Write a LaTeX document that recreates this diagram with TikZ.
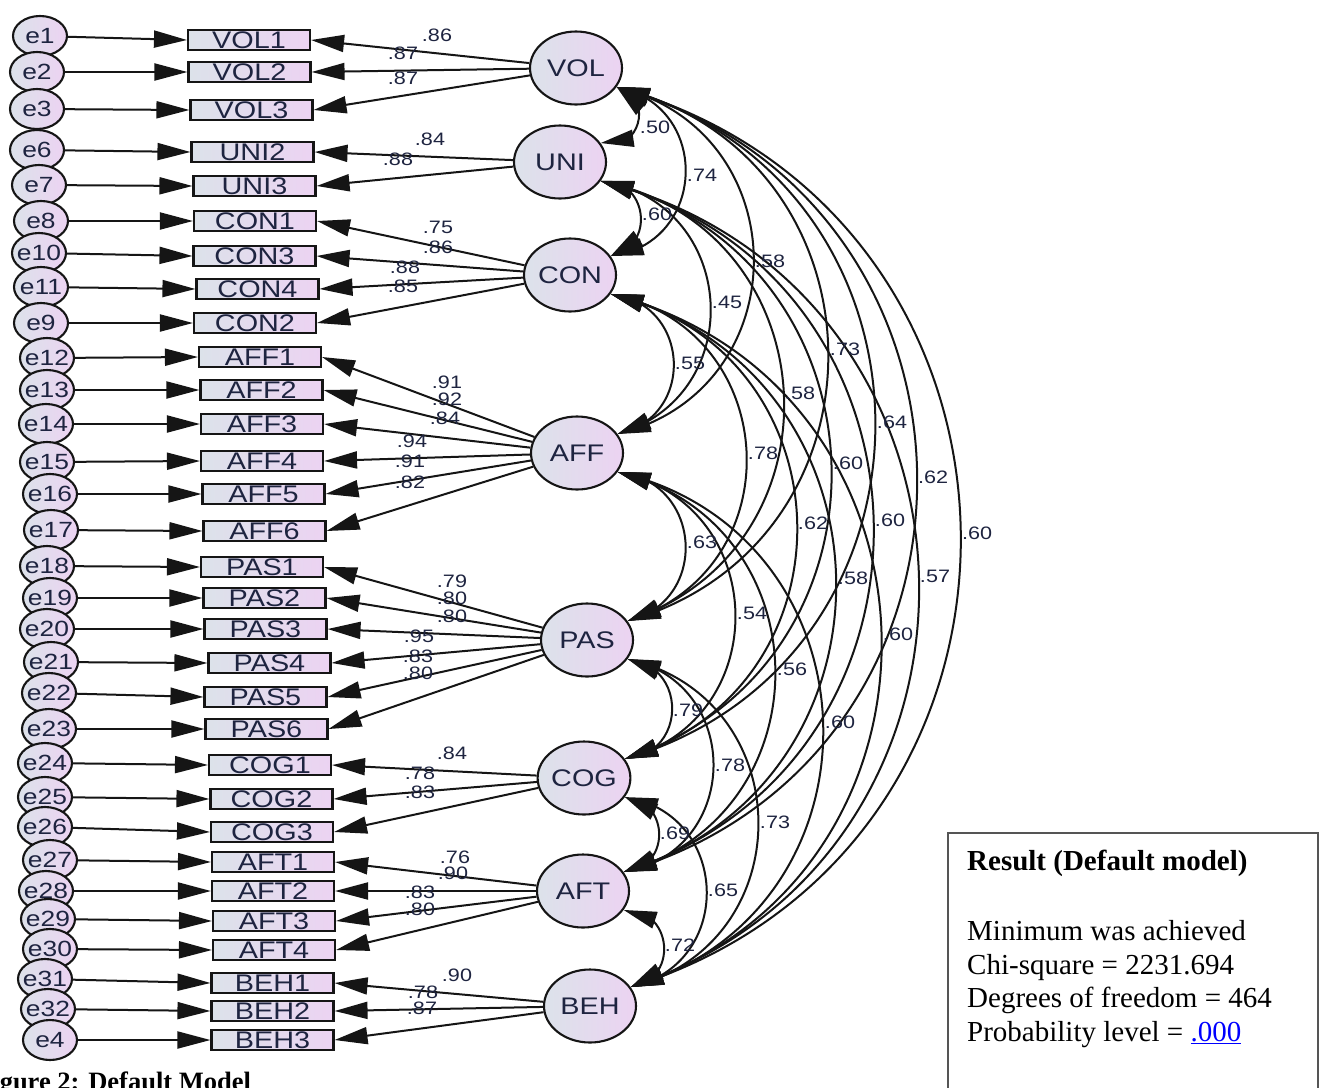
\documentclass[tikz,border=0pt]{standalone}
\usepackage{fontspec}
\usetikzlibrary{shapes.geometric,arrows.meta,bending}
\newfontfamily\dg[FakeStretch=1.2]{Liberation Sans}
\newfontfamily\tnr{Liberation Serif}
\definecolor{fillL}{HTML}{DCE2EA}
\definecolor{fillR}{HTML}{ECD3F2}
\definecolor{txt}{HTML}{1E2440}
\definecolor{lin}{HTML}{151515}
\definecolor{boxgray}{HTML}{555555}
\tikzset{
  tip/.tip={Triangle[length=33pt,width=17pt]},
  err/.style={ellipse, draw=lin, line width=2.1pt, left color=fillL, right color=fillR,
    minimum width=54pt, minimum height=40pt, inner sep=0pt, text=txt,
    font=\dg\fontsize{22}{22}\selectfont},
  obs/.style={rectangle, draw=lin, line width=2.1pt, left color=fillL, right color=fillR,
    minimum width=122pt, minimum height=20pt, inner sep=0pt, text height=17pt, text depth=0pt,
    text=txt, font=\dg\fontsize{24}{24}\selectfont},
  lat/.style={ellipse, draw=lin, line width=2.1pt, left color=fillL, right color=fillR,
    minimum width=92pt, minimum height=73pt, inner sep=0pt, text=txt,
    font=\dg\fontsize{24}{24}\selectfont},
  ld/.style={draw=lin, line width=2pt, -tip},
  cov/.style={draw=lin, line width=2pt, tip-tip},
  lab/.style={inner sep=0pt, text=txt, font=\dg\fontsize{18}{18}\selectfont},
  res/.style={inner sep=0pt, anchor=base west, font=\tnr\fontsize{29}{29}\selectfont}
}
\begin{document}
\begin{tikzpicture}[x=1pt,y=1pt]
\useasboundingbox (0,0) rectangle (1319,-1087);
\clip (0,0) rectangle (1319,-1087);
\fill[white] (0,0) rectangle (1319,-1087);

% error terms and indicators
\foreach \e/\ex/\ey/\b/\bx/\by in {
 e1/40/36/VOL1/249/40, e2/37/72/VOL2/249.5/72, e3/37/109/VOL3/251.5/110,
 e6/37/150/UNI2/252.5/152, e7/39/185/UNI3/254.5/186,
 e8/41/221/CON1/255/221, e10/39/253/CON3/254.5/256, e11/41/287/CON4/257.5/289, e9/41/323/CON2/255/323,
 e12/47/358/AFF1/260/357, e13/47/390/AFF2/261.5/390, e14/46/424/AFF3/262/424,
 e15/47/462/AFF4/262/461, e16/50/494/AFF5/263.5/494, e17/51/530/AFF6/264.5/531,
 e18/47/566/PAS1/262/567, e19/50/598/PAS2/264.5/598, e20/47/629/PAS3/265.5/629,
 e21/51/662/PAS4/269.5/663, e22/49/693/PAS5/265.5/697, e23/49/729/PAS6/266.5/729,
 e24/45/763/COG1/270/765, e25/45/797/COG2/271.5/799, e26/45/827/COG3/272/832,
 e27/50/860/AFT1/273/862, e28/46/891/AFT2/273/891, e29/48/919/AFT3/274/921, e30/50/949/AFT4/274/950,
 e31/45/979/BEH1/272.5/983, e32/48/1009/BEH2/272.5/1011, e4/50/1040/BEH3/272.5/1040}
{
  \node[err] (\e) at (\ex,-\ey) {\makebox[0pt]{\e}};
  \node[obs] (\b) at (\bx,-\by) {\b};
  \draw[ld] (\e) -- (\b.west);
}

% latent variables
\foreach \n/\x/\y in {VOL/576/68, UNI/560/162, CON/570/275, AFF/577/453,
  PAS/587/640, COG/584/778, AFT/583/891, BEH/590/1006}
  \node[lat] (\n) at (\x,-\y) {\n};

% loadings
\foreach \l/\i in {VOL/VOL1, VOL/VOL2, VOL/VOL3, UNI/UNI2, UNI/UNI3,
  CON/CON1, CON/CON3, CON/CON4, CON/CON2,
  AFF/AFF1, AFF/AFF2, AFF/AFF3, AFF/AFF4, AFF/AFF5, AFF/AFF6,
  PAS/PAS1, PAS/PAS2, PAS/PAS3, PAS/PAS4, PAS/PAS5, PAS/PAS6,
  COG/COG1, COG/COG2, COG/COG3, AFT/AFT1, AFT/AFT2, AFT/AFT3, AFT/AFT4,
  BEH/BEH1, BEH/BEH2, BEH/BEH3}
  \draw[ld] (\l) -- (\i.east);

\foreach \i/\v/\x/\y in {VOL1/.86/437/35, VOL2/.87/403/53, VOL3/.87/403/78,
  UNI2/.84/430/139, UNI3/.88/398/159,
  CON1/.75/438/227, CON3/.86/438/247, CON4/.88/405/267, CON2/.85/403/286,
  AFF1/.91/447/382, AFF2/.92/447/399, AFF3/.84/445/418, AFF4/.94/412/441, AFF5/.91/410/461, AFF6/.82/410/482,
  PAS1/.79/452/581, PAS2/.80/452/598, PAS3/.80/452/616, PAS4/.95/419/636, PAS5/.83/418/656, PAS6/.80/418/673,
  COG1/.84/452/753, COG2/.78/420/773, COG3/.83/420/792,
  AFT1/.76/455/857, AFT2/.90/453/873, AFT3/.83/420/892, AFT4/.80/420/909,
  BEH1/.90/457/975, BEH2/.78/423/992, BEH3/.87/422/1008}
  \node[lab] (l\i) at (\x,-\y) {\v};

% covariances
\foreach \a/\b/\t/\k in {
  VOL/UNI/92.6/1.78, UNI/CON/86/1.59, CON/AFF/80.8/1.47, AFF/PAS/80.4/1.46,
  PAS/COG/85/1.57, COG/AFT/85.8/1.59, AFT/BEH/87.4/1.63,
  VOL/CON/81/1.47, UNI/AFF/77.4/1.40, CON/PAS/75.8/1.37, AFF/COG/77.2/1.39,
  PAS/AFT/79.2/1.43, COG/BEH/79.6/1.44,
  VOL/AFF/76.4/1.38, UNI/PAS/75.2/1.36, CON/COG/75.2/1.36, AFF/AFT/75.6/1.36, PAS/BEH/76.6/1.38,
  VOL/PAS/75.2/1.36, UNI/COG/74.2/1.34, CON/AFT/74.4/1.34, AFF/BEH/75.5/1.36,
  VOL/COG/74.4/1.34, UNI/AFT/74.2/1.34, CON/BEH/73.9/1.335,
  VOL/AFT/74.1/1.34, UNI/BEH/73.8/1.335,
  VOL/BEH/73.6/1.33}
  \draw[cov] (\a.-25) to[bend left=\t, looseness=\k] (\b.25);

\foreach \n/\v/\x/\y in {
  VU/.50/655/127, UC/.60/657/214, CA/.55/690/363, AP/.63/702/542, PC/.79/688/710, CT/.69/675/833, TB/.72/680/945,
  VC/.74/702/175, UA/.45/727/302, CP/.78/763/453, AC/.54/752/613, PT/.78/730/765, CB/.65/723/890,
  VA/.58/770/261, UP/.58/800/393, CC/.62/813/523, AT/.56/792/669, PB/.73/775/822,
  VP/.73/845/349, UG/.60/848/463, CN/.58/853/578, AB/.60/840/722,
  VG/.64/892/422, UT/.60/890/520, CE/.60/898/634,
  VT/.62/933/477, UB/.57/935/576,
  VB/.60/977/533}
  \node[lab] (c\n) at (\x,-\y) {\v};

% result box
\node[draw=boxgray, line width=1.5pt, anchor=north west, minimum width=370pt, minimum height=280pt, inner sep=0pt] (result) at (947,-832) {};
\node[res] (r1) at (967,-870) {\bfseries Result (Default model)};
\node[res] (r2) at (967,-940) {Minimum was achieved};
\node[res] (r3) at (967,-974) {Chi-square = 2231.694};
\node[res] (r4) at (967,-1007) {Degrees of freedom = 464};
\node[res] (r5) at (967,-1041) {Probability level = \textcolor{blue}{\underline{.000}}};

% caption (cut off at the page edges, as in the reference)
\node[inner sep=0pt, anchor=base west, font=\tnr\bfseries\fontsize{26.5}{26.5}\selectfont] (cap) at (-24,-1090) {Figure 2: Default Model};
\end{tikzpicture}
\end{document}
